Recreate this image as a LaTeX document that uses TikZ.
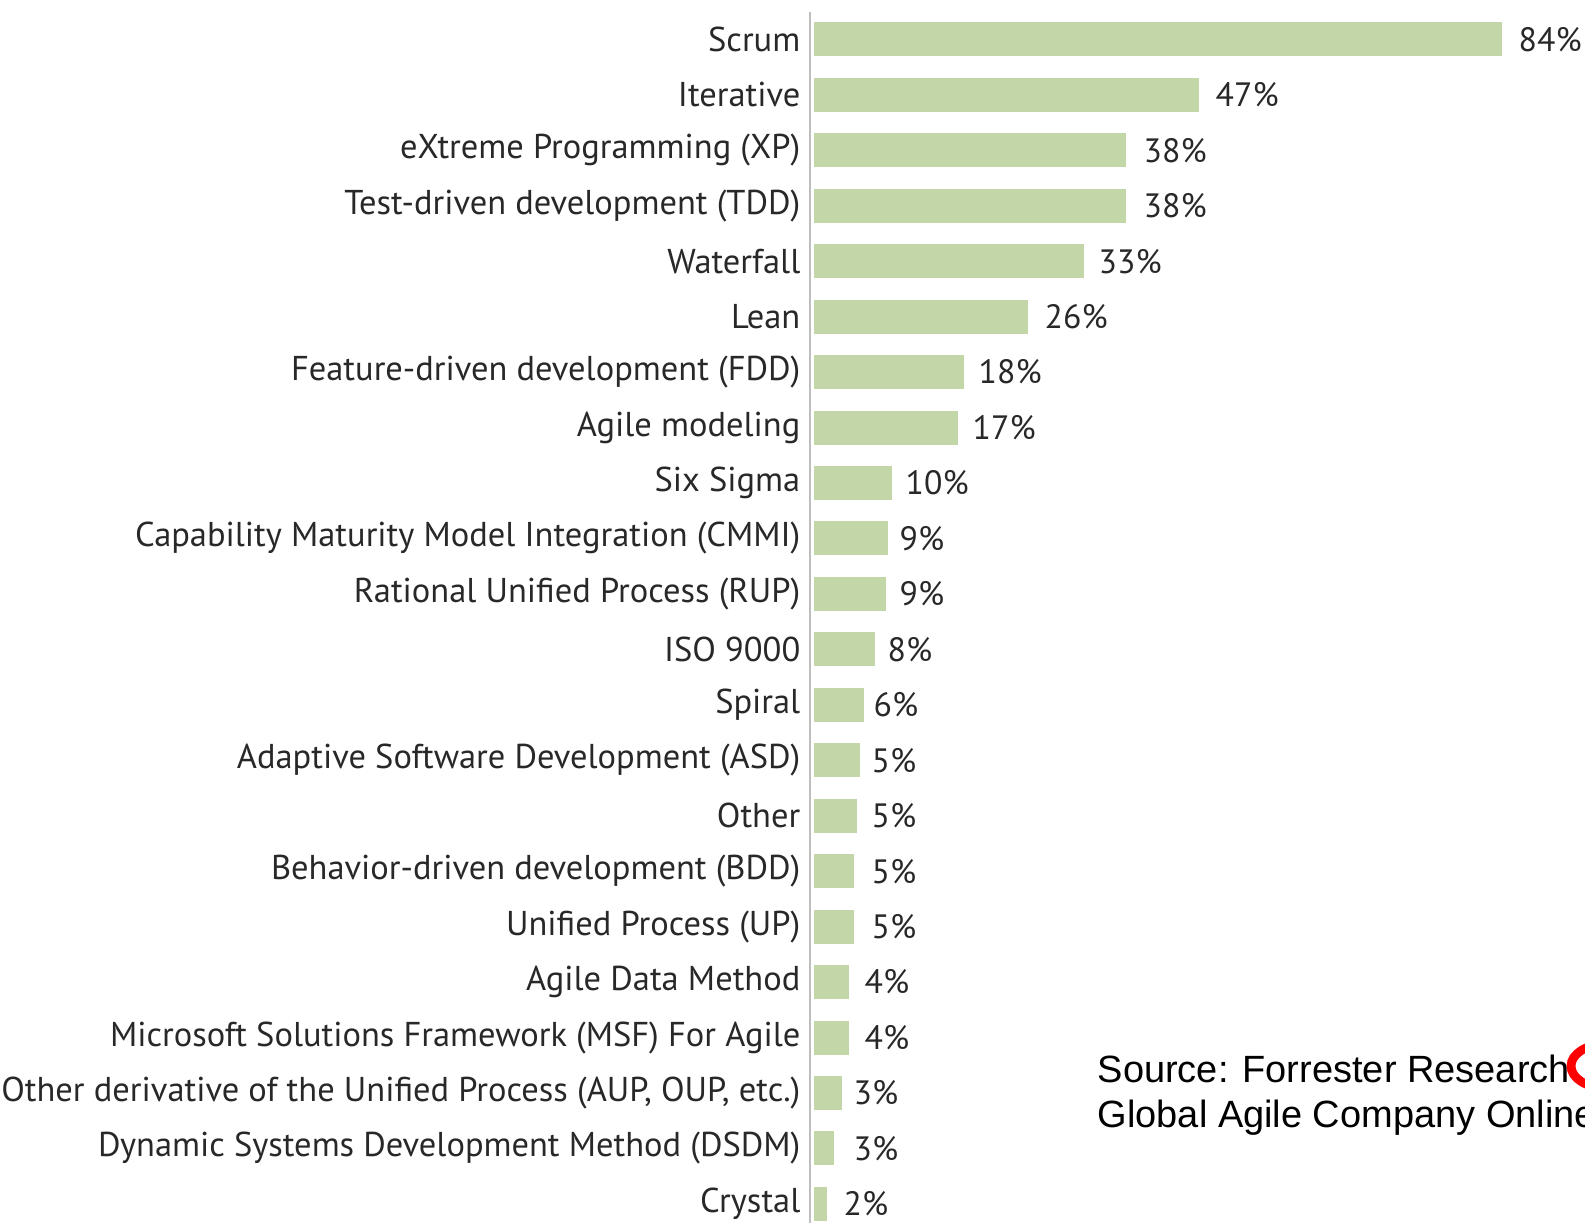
\documentclass[tikz,border=0pt]{standalone}
\usepackage{fontspec}
\setmainfont{PT Sans}
\newfontfamily\srcfont{Liberation Sans}
\usetikzlibrary{calc,positioning}
\definecolor{bargreen}{RGB}{195,214,168}
\definecolor{txtgray}{RGB}{40,40,40}
\definecolor{axisgray}{RGB}{190,190,190}
\tikzset{
    bar/.style={fill=bargreen,draw=none,minimum height=0.34cm,inner sep=0pt,anchor=west},
    lbl/.style={anchor=east,inner sep=0pt,text=txtgray,font=\fontsize{9.8}{11}\selectfont},
    val/.style={anchor=west,inner sep=0pt,text=txtgray,font=\fontsize{9.6}{11}\selectfont},
  }
\begin{document}
\begin{tikzpicture}[x=0.01cm,y=0.01cm]
  \clip (0,0) rectangle (1585,-1223);
  \useasboundingbox (0,0) rectangle (1585,-1223);

  %axe
  \coordinate (A0) at (810,-12);
  \coordinate (A1) at (810,-1223);
  \draw[axisgray,line width=0.5pt] (A0) -- (A1);

  %barres : nom/valeur/longueur/position du pourcentage
  \foreach \lab/\v/\len/\px [count=\i from 0] in {Scrum/84/688/1518,Iterative/47/385/1215,
      eXtreme Programming (XP)/38/312/1143,Test-driven development (TDD)/38/312/1143,
      Waterfall/33/270/1098,Lean/26/214/1044,Feature-driven development (FDD)/18/150/978,
      Agile modeling/17/144/972,Six Sigma/10/78/905,
      Capability Maturity Model Integration (CMMI)/9/74/899,
      Rational Unified Process (RUP)/9/72/899,ISO 9000/8/61/887,Spiral/6/50/873,
      Adaptive Software Development (ASD)/5/46/871,Other/5/43/871,
      Behavior-driven development (BDD)/5/40/871,Unified Process (UP)/5/40/871,
      Agile Data Method/4/35/864,Microsoft Solutions Framework (MSF) For Agile/4/35/864,
      {Other derivative of the Unified Process (AUP, OUP, etc.)/3/28/853},
      Dynamic Systems Development Method (DSDM)/3/20/853,Crystal/2/13/843}{
    \node[lbl] (l\i) at (801,{-39.4-55.45*\i}) {\lab};
    \node[bar,minimum width={\len*0.01cm}] (b\i) at (813,{-39.4-55.45*\i}) {};
    \node[val] (v\i) at (\px,{-39.4-55.45*\i}) {\v\%};
  }

  %source
  \node[anchor=base west,align=left,inner sep=0pt,font=\srcfont\fontsize{10.8}{12.8}\selectfont]
    (src) at (1097,-1127) {Source: Forrester Research\\Global Agile Company Online};
  \draw[red,line width=2.5pt] (1606,-1066) ellipse [x radius=35,y radius=22];
\end{tikzpicture}
\end{document}
